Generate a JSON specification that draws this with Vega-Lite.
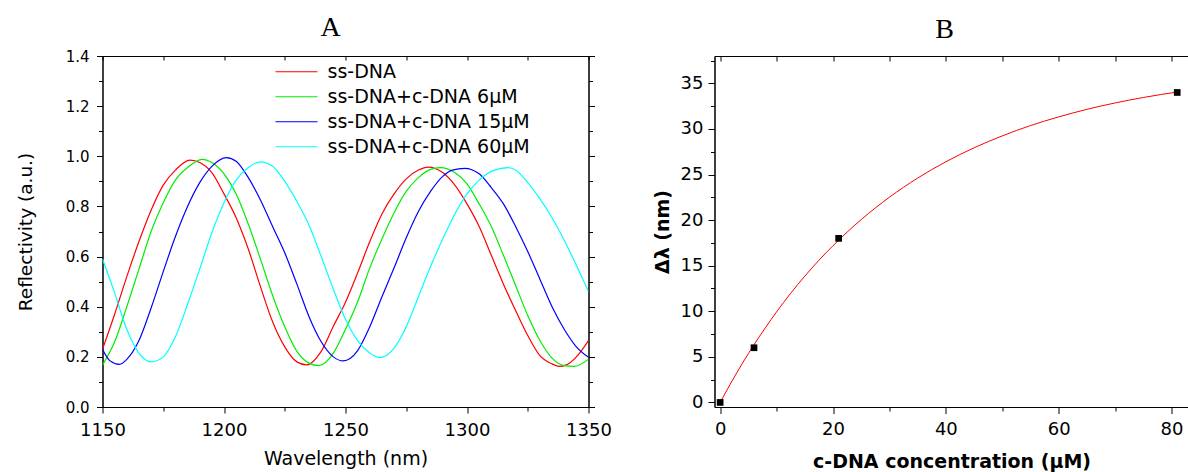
{
  "$schema": "https://vega.github.io/schema/vega-lite/v6.json",
  "padding": {"left": 15.5, "top": 13, "right": 0, "bottom": 0},
  "background": "white",
  "config": {
    "view": {"stroke": "#000", "strokeWidth": 1},
    "axis": {"domainColor": "#000", "tickColor": "#000", "labelColor": "#000", "titleColor": "#000", "grid": false, "labelFont": "DejaVu Sans", "titleFont": "DejaVu Sans", "titleFontWeight": "normal", "domainWidth": 1, "tickWidth": 1, "labelFlush": false, "labelOverlap": false, "labelBound": false},
    "title": {"font": "Liberation Serif", "fontSize": 28, "fontWeight": "normal", "color": "#000", "anchor": "middle"}
  },
  "datasets": {
    "spectra": [
      {"wavelength": 1150, "reflectivity": 0.23, "sample": "ss-DNA"},
      {"wavelength": 1155, "reflectivity": 0.37, "sample": "ss-DNA"},
      {"wavelength": 1160, "reflectivity": 0.52, "sample": "ss-DNA"},
      {"wavelength": 1165, "reflectivity": 0.66, "sample": "ss-DNA"},
      {"wavelength": 1170, "reflectivity": 0.785, "sample": "ss-DNA"},
      {"wavelength": 1175, "reflectivity": 0.885, "sample": "ss-DNA"},
      {"wavelength": 1180, "reflectivity": 0.945, "sample": "ss-DNA"},
      {"wavelength": 1186, "reflectivity": 0.985, "sample": "ss-DNA"},
      {"wavelength": 1190, "reflectivity": 0.975, "sample": "ss-DNA"},
      {"wavelength": 1195, "reflectivity": 0.935, "sample": "ss-DNA"},
      {"wavelength": 1200, "reflectivity": 0.85, "sample": "ss-DNA"},
      {"wavelength": 1205, "reflectivity": 0.755, "sample": "ss-DNA"},
      {"wavelength": 1210, "reflectivity": 0.63, "sample": "ss-DNA"},
      {"wavelength": 1215, "reflectivity": 0.48, "sample": "ss-DNA"},
      {"wavelength": 1220, "reflectivity": 0.34, "sample": "ss-DNA"},
      {"wavelength": 1225, "reflectivity": 0.24, "sample": "ss-DNA"},
      {"wavelength": 1230, "reflectivity": 0.18, "sample": "ss-DNA"},
      {"wavelength": 1234, "reflectivity": 0.168, "sample": "ss-DNA"},
      {"wavelength": 1240, "reflectivity": 0.222, "sample": "ss-DNA"},
      {"wavelength": 1245, "reflectivity": 0.322, "sample": "ss-DNA"},
      {"wavelength": 1250, "reflectivity": 0.418, "sample": "ss-DNA"},
      {"wavelength": 1255, "reflectivity": 0.535, "sample": "ss-DNA"},
      {"wavelength": 1260, "reflectivity": 0.66, "sample": "ss-DNA"},
      {"wavelength": 1265, "reflectivity": 0.77, "sample": "ss-DNA"},
      {"wavelength": 1270, "reflectivity": 0.85, "sample": "ss-DNA"},
      {"wavelength": 1275, "reflectivity": 0.91, "sample": "ss-DNA"},
      {"wavelength": 1280, "reflectivity": 0.945, "sample": "ss-DNA"},
      {"wavelength": 1284, "reflectivity": 0.957, "sample": "ss-DNA"},
      {"wavelength": 1290, "reflectivity": 0.935, "sample": "ss-DNA"},
      {"wavelength": 1295, "reflectivity": 0.885, "sample": "ss-DNA"},
      {"wavelength": 1300, "reflectivity": 0.81, "sample": "ss-DNA"},
      {"wavelength": 1305, "reflectivity": 0.72, "sample": "ss-DNA"},
      {"wavelength": 1310, "reflectivity": 0.605, "sample": "ss-DNA"},
      {"wavelength": 1315, "reflectivity": 0.49, "sample": "ss-DNA"},
      {"wavelength": 1320, "reflectivity": 0.385, "sample": "ss-DNA"},
      {"wavelength": 1325, "reflectivity": 0.285, "sample": "ss-DNA"},
      {"wavelength": 1330, "reflectivity": 0.205, "sample": "ss-DNA"},
      {"wavelength": 1335, "reflectivity": 0.172, "sample": "ss-DNA"},
      {"wavelength": 1338, "reflectivity": 0.162, "sample": "ss-DNA"},
      {"wavelength": 1341, "reflectivity": 0.168, "sample": "ss-DNA"},
      {"wavelength": 1345, "reflectivity": 0.2, "sample": "ss-DNA"},
      {"wavelength": 1350, "reflectivity": 0.265, "sample": "ss-DNA"},

      {"wavelength": 1150, "reflectivity": 0.167, "sample": "ss-DNA+c-DNA 6μM"},
      {"wavelength": 1155, "reflectivity": 0.26, "sample": "ss-DNA+c-DNA 6μM"},
      {"wavelength": 1160, "reflectivity": 0.4, "sample": "ss-DNA+c-DNA 6μM"},
      {"wavelength": 1165, "reflectivity": 0.55, "sample": "ss-DNA+c-DNA 6μM"},
      {"wavelength": 1170, "reflectivity": 0.7, "sample": "ss-DNA+c-DNA 6μM"},
      {"wavelength": 1175, "reflectivity": 0.815, "sample": "ss-DNA+c-DNA 6μM"},
      {"wavelength": 1180, "reflectivity": 0.905, "sample": "ss-DNA+c-DNA 6μM"},
      {"wavelength": 1185, "reflectivity": 0.955, "sample": "ss-DNA+c-DNA 6μM"},
      {"wavelength": 1191, "reflectivity": 0.988, "sample": "ss-DNA+c-DNA 6μM"},
      {"wavelength": 1195, "reflectivity": 0.975, "sample": "ss-DNA+c-DNA 6μM"},
      {"wavelength": 1200, "reflectivity": 0.93, "sample": "ss-DNA+c-DNA 6μM"},
      {"wavelength": 1205, "reflectivity": 0.85, "sample": "ss-DNA+c-DNA 6μM"},
      {"wavelength": 1210, "reflectivity": 0.73, "sample": "ss-DNA+c-DNA 6μM"},
      {"wavelength": 1215, "reflectivity": 0.59, "sample": "ss-DNA+c-DNA 6μM"},
      {"wavelength": 1220, "reflectivity": 0.445, "sample": "ss-DNA+c-DNA 6μM"},
      {"wavelength": 1225, "reflectivity": 0.32, "sample": "ss-DNA+c-DNA 6μM"},
      {"wavelength": 1230, "reflectivity": 0.222, "sample": "ss-DNA+c-DNA 6μM"},
      {"wavelength": 1235, "reflectivity": 0.175, "sample": "ss-DNA+c-DNA 6μM"},
      {"wavelength": 1239, "reflectivity": 0.165, "sample": "ss-DNA+c-DNA 6μM"},
      {"wavelength": 1245, "reflectivity": 0.215, "sample": "ss-DNA+c-DNA 6μM"},
      {"wavelength": 1250, "reflectivity": 0.31, "sample": "ss-DNA+c-DNA 6μM"},
      {"wavelength": 1255, "reflectivity": 0.42, "sample": "ss-DNA+c-DNA 6μM"},
      {"wavelength": 1260, "reflectivity": 0.555, "sample": "ss-DNA+c-DNA 6μM"},
      {"wavelength": 1265, "reflectivity": 0.67, "sample": "ss-DNA+c-DNA 6μM"},
      {"wavelength": 1270, "reflectivity": 0.775, "sample": "ss-DNA+c-DNA 6μM"},
      {"wavelength": 1275, "reflectivity": 0.86, "sample": "ss-DNA+c-DNA 6μM"},
      {"wavelength": 1280, "reflectivity": 0.915, "sample": "ss-DNA+c-DNA 6μM"},
      {"wavelength": 1285, "reflectivity": 0.948, "sample": "ss-DNA+c-DNA 6μM"},
      {"wavelength": 1289, "reflectivity": 0.955, "sample": "ss-DNA+c-DNA 6μM"},
      {"wavelength": 1295, "reflectivity": 0.935, "sample": "ss-DNA+c-DNA 6μM"},
      {"wavelength": 1300, "reflectivity": 0.89, "sample": "ss-DNA+c-DNA 6μM"},
      {"wavelength": 1305, "reflectivity": 0.81, "sample": "ss-DNA+c-DNA 6μM"},
      {"wavelength": 1310, "reflectivity": 0.72, "sample": "ss-DNA+c-DNA 6μM"},
      {"wavelength": 1315, "reflectivity": 0.605, "sample": "ss-DNA+c-DNA 6μM"},
      {"wavelength": 1320, "reflectivity": 0.485, "sample": "ss-DNA+c-DNA 6μM"},
      {"wavelength": 1325, "reflectivity": 0.365, "sample": "ss-DNA+c-DNA 6μM"},
      {"wavelength": 1330, "reflectivity": 0.265, "sample": "ss-DNA+c-DNA 6μM"},
      {"wavelength": 1335, "reflectivity": 0.195, "sample": "ss-DNA+c-DNA 6μM"},
      {"wavelength": 1340, "reflectivity": 0.165, "sample": "ss-DNA+c-DNA 6μM"},
      {"wavelength": 1344, "reflectivity": 0.162, "sample": "ss-DNA+c-DNA 6μM"},
      {"wavelength": 1350, "reflectivity": 0.19, "sample": "ss-DNA+c-DNA 6μM"},

      {"wavelength": 1150, "reflectivity": 0.23, "sample": "ss-DNA+c-DNA 15μM"},
      {"wavelength": 1153, "reflectivity": 0.185, "sample": "ss-DNA+c-DNA 15μM"},
      {"wavelength": 1157, "reflectivity": 0.17, "sample": "ss-DNA+c-DNA 15μM"},
      {"wavelength": 1160, "reflectivity": 0.19, "sample": "ss-DNA+c-DNA 15μM"},
      {"wavelength": 1165, "reflectivity": 0.265, "sample": "ss-DNA+c-DNA 15μM"},
      {"wavelength": 1170, "reflectivity": 0.395, "sample": "ss-DNA+c-DNA 15μM"},
      {"wavelength": 1175, "reflectivity": 0.54, "sample": "ss-DNA+c-DNA 15μM"},
      {"wavelength": 1180, "reflectivity": 0.68, "sample": "ss-DNA+c-DNA 15μM"},
      {"wavelength": 1185, "reflectivity": 0.8, "sample": "ss-DNA+c-DNA 15μM"},
      {"wavelength": 1190, "reflectivity": 0.895, "sample": "ss-DNA+c-DNA 15μM"},
      {"wavelength": 1195, "reflectivity": 0.96, "sample": "ss-DNA+c-DNA 15μM"},
      {"wavelength": 1201, "reflectivity": 0.995, "sample": "ss-DNA+c-DNA 15μM"},
      {"wavelength": 1205, "reflectivity": 0.98, "sample": "ss-DNA+c-DNA 15μM"},
      {"wavelength": 1210, "reflectivity": 0.915, "sample": "ss-DNA+c-DNA 15μM"},
      {"wavelength": 1215, "reflectivity": 0.826, "sample": "ss-DNA+c-DNA 15μM"},
      {"wavelength": 1220, "reflectivity": 0.72, "sample": "ss-DNA+c-DNA 15μM"},
      {"wavelength": 1225, "reflectivity": 0.615, "sample": "ss-DNA+c-DNA 15μM"},
      {"wavelength": 1230, "reflectivity": 0.49, "sample": "ss-DNA+c-DNA 15μM"},
      {"wavelength": 1235, "reflectivity": 0.36, "sample": "ss-DNA+c-DNA 15μM"},
      {"wavelength": 1240, "reflectivity": 0.26, "sample": "ss-DNA+c-DNA 15μM"},
      {"wavelength": 1245, "reflectivity": 0.2, "sample": "ss-DNA+c-DNA 15μM"},
      {"wavelength": 1249, "reflectivity": 0.184, "sample": "ss-DNA+c-DNA 15μM"},
      {"wavelength": 1255, "reflectivity": 0.225, "sample": "ss-DNA+c-DNA 15μM"},
      {"wavelength": 1260, "reflectivity": 0.32, "sample": "ss-DNA+c-DNA 15μM"},
      {"wavelength": 1265, "reflectivity": 0.44, "sample": "ss-DNA+c-DNA 15μM"},
      {"wavelength": 1270, "reflectivity": 0.555, "sample": "ss-DNA+c-DNA 15μM"},
      {"wavelength": 1275, "reflectivity": 0.675, "sample": "ss-DNA+c-DNA 15μM"},
      {"wavelength": 1280, "reflectivity": 0.78, "sample": "ss-DNA+c-DNA 15μM"},
      {"wavelength": 1285, "reflectivity": 0.86, "sample": "ss-DNA+c-DNA 15μM"},
      {"wavelength": 1290, "reflectivity": 0.92, "sample": "ss-DNA+c-DNA 15μM"},
      {"wavelength": 1294, "reflectivity": 0.945, "sample": "ss-DNA+c-DNA 15μM"},
      {"wavelength": 1299, "reflectivity": 0.952, "sample": "ss-DNA+c-DNA 15μM"},
      {"wavelength": 1305, "reflectivity": 0.93, "sample": "ss-DNA+c-DNA 15μM"},
      {"wavelength": 1310, "reflectivity": 0.875, "sample": "ss-DNA+c-DNA 15μM"},
      {"wavelength": 1315, "reflectivity": 0.81, "sample": "ss-DNA+c-DNA 15μM"},
      {"wavelength": 1320, "reflectivity": 0.72, "sample": "ss-DNA+c-DNA 15μM"},
      {"wavelength": 1325, "reflectivity": 0.62, "sample": "ss-DNA+c-DNA 15μM"},
      {"wavelength": 1330, "reflectivity": 0.51, "sample": "ss-DNA+c-DNA 15μM"},
      {"wavelength": 1335, "reflectivity": 0.4, "sample": "ss-DNA+c-DNA 15μM"},
      {"wavelength": 1340, "reflectivity": 0.31, "sample": "ss-DNA+c-DNA 15μM"},
      {"wavelength": 1345, "reflectivity": 0.24, "sample": "ss-DNA+c-DNA 15μM"},
      {"wavelength": 1350, "reflectivity": 0.198, "sample": "ss-DNA+c-DNA 15μM"},

      {"wavelength": 1150, "reflectivity": 0.59, "sample": "ss-DNA+c-DNA 60μM"},
      {"wavelength": 1155, "reflectivity": 0.455, "sample": "ss-DNA+c-DNA 60μM"},
      {"wavelength": 1160, "reflectivity": 0.31, "sample": "ss-DNA+c-DNA 60μM"},
      {"wavelength": 1165, "reflectivity": 0.215, "sample": "ss-DNA+c-DNA 60μM"},
      {"wavelength": 1170, "reflectivity": 0.18, "sample": "ss-DNA+c-DNA 60μM"},
      {"wavelength": 1175, "reflectivity": 0.2, "sample": "ss-DNA+c-DNA 60μM"},
      {"wavelength": 1180, "reflectivity": 0.28, "sample": "ss-DNA+c-DNA 60μM"},
      {"wavelength": 1185, "reflectivity": 0.41, "sample": "ss-DNA+c-DNA 60μM"},
      {"wavelength": 1190, "reflectivity": 0.55, "sample": "ss-DNA+c-DNA 60μM"},
      {"wavelength": 1195, "reflectivity": 0.695, "sample": "ss-DNA+c-DNA 60μM"},
      {"wavelength": 1200, "reflectivity": 0.815, "sample": "ss-DNA+c-DNA 60μM"},
      {"wavelength": 1205, "reflectivity": 0.905, "sample": "ss-DNA+c-DNA 60μM"},
      {"wavelength": 1210, "reflectivity": 0.955, "sample": "ss-DNA+c-DNA 60μM"},
      {"wavelength": 1215, "reflectivity": 0.978, "sample": "ss-DNA+c-DNA 60μM"},
      {"wavelength": 1220, "reflectivity": 0.96, "sample": "ss-DNA+c-DNA 60μM"},
      {"wavelength": 1225, "reflectivity": 0.9, "sample": "ss-DNA+c-DNA 60μM"},
      {"wavelength": 1230, "reflectivity": 0.82, "sample": "ss-DNA+c-DNA 60μM"},
      {"wavelength": 1235, "reflectivity": 0.725, "sample": "ss-DNA+c-DNA 60μM"},
      {"wavelength": 1240, "reflectivity": 0.6, "sample": "ss-DNA+c-DNA 60μM"},
      {"wavelength": 1245, "reflectivity": 0.47, "sample": "ss-DNA+c-DNA 60μM"},
      {"wavelength": 1250, "reflectivity": 0.35, "sample": "ss-DNA+c-DNA 60μM"},
      {"wavelength": 1255, "reflectivity": 0.265, "sample": "ss-DNA+c-DNA 60μM"},
      {"wavelength": 1260, "reflectivity": 0.215, "sample": "ss-DNA+c-DNA 60μM"},
      {"wavelength": 1264, "reflectivity": 0.197, "sample": "ss-DNA+c-DNA 60μM"},
      {"wavelength": 1270, "reflectivity": 0.235, "sample": "ss-DNA+c-DNA 60μM"},
      {"wavelength": 1275, "reflectivity": 0.32, "sample": "ss-DNA+c-DNA 60μM"},
      {"wavelength": 1280, "reflectivity": 0.44, "sample": "ss-DNA+c-DNA 60μM"},
      {"wavelength": 1285, "reflectivity": 0.56, "sample": "ss-DNA+c-DNA 60μM"},
      {"wavelength": 1290, "reflectivity": 0.67, "sample": "ss-DNA+c-DNA 60μM"},
      {"wavelength": 1295, "reflectivity": 0.77, "sample": "ss-DNA+c-DNA 60μM"},
      {"wavelength": 1300, "reflectivity": 0.85, "sample": "ss-DNA+c-DNA 60μM"},
      {"wavelength": 1305, "reflectivity": 0.905, "sample": "ss-DNA+c-DNA 60μM"},
      {"wavelength": 1310, "reflectivity": 0.94, "sample": "ss-DNA+c-DNA 60μM"},
      {"wavelength": 1317, "reflectivity": 0.955, "sample": "ss-DNA+c-DNA 60μM"},
      {"wavelength": 1320, "reflectivity": 0.945, "sample": "ss-DNA+c-DNA 60μM"},
      {"wavelength": 1325, "reflectivity": 0.895, "sample": "ss-DNA+c-DNA 60μM"},
      {"wavelength": 1330, "reflectivity": 0.83, "sample": "ss-DNA+c-DNA 60μM"},
      {"wavelength": 1335, "reflectivity": 0.755, "sample": "ss-DNA+c-DNA 60μM"},
      {"wavelength": 1340, "reflectivity": 0.665, "sample": "ss-DNA+c-DNA 60μM"},
      {"wavelength": 1345, "reflectivity": 0.565, "sample": "ss-DNA+c-DNA 60μM"},
      {"wavelength": 1350, "reflectivity": 0.46, "sample": "ss-DNA+c-DNA 60μM"}
    ],
    "measured": [
      {"concentration": 0, "shift": 0},
      {"concentration": 6, "shift": 6},
      {"concentration": 21, "shift": 18},
      {"concentration": 81, "shift": 34}
    ],
    "fit": [
      {"concentration": 0, "shift": 0},
      {"concentration": 2, "shift": 2.24},
      {"concentration": 4, "shift": 4.35},
      {"concentration": 6, "shift": 6.33},
      {"concentration": 8, "shift": 8.18},
      {"concentration": 10, "shift": 9.93},
      {"concentration": 12.5, "shift": 11.97},
      {"concentration": 15, "shift": 13.85},
      {"concentration": 17.5, "shift": 15.59},
      {"concentration": 20, "shift": 17.19},
      {"concentration": 22.5, "shift": 18.68},
      {"concentration": 25, "shift": 20.06},
      {"concentration": 30, "shift": 22.51},
      {"concentration": 35, "shift": 24.61},
      {"concentration": 40, "shift": 26.4},
      {"concentration": 45, "shift": 27.93},
      {"concentration": 50, "shift": 29.24},
      {"concentration": 55, "shift": 30.37},
      {"concentration": 60, "shift": 31.32},
      {"concentration": 65, "shift": 32.15},
      {"concentration": 70, "shift": 32.85},
      {"concentration": 75, "shift": 33.45},
      {"concentration": 81, "shift": 34.05}
    ]
  },
  "hconcat": [
    {
      "width": 486,
      "height": 351,
      "title": {"text": "A", "dx": -15, "offset": 7.5},
      "data": {"name": "spectra"},
      "layer": [
        {
          "mark": {"type": "line", "interpolate": "monotone", "strokeWidth": 1.2, "clip": true},
          "encoding": {
            "x": {"field": "wavelength", "type": "quantitative",
              "scale": {"domain": [1150, 1350], "nice": false, "zero": false},
              "axis": {"orient": "bottom", "title": "Wavelength (nm)", "format": "d", "values": [1150, 1175, 1200, 1225, 1250, 1275, 1300, 1325, 1350],
                "labelExpr": "datum.value % 50 === 0 ? datum.label : ''",
                "tickSize": {"condition": {"test": "datum.value % 50 === 0", "value": 6}, "value": 4},
                "labelFontSize": 18, "labelPadding": 8, "titleFontSize": 19, "titlePadding": 10}},
            "y": {"field": "reflectivity", "type": "quantitative",
              "scale": {"domain": [0, 1.4], "nice": false, "zero": false},
              "axis": {"orient": "left", "title": "Reflectivity (a.u.)", "values": [0, 0.1, 0.2, 0.3, 0.4, 0.5, 0.6, 0.7, 0.8, 0.9, 1.0, 1.1, 1.2, 1.3, 1.4],
                "labelExpr": "round(datum.value * 10) % 2 === 0 ? format(datum.value, '.1f') : ''",
                "tickSize": {"condition": {"test": "round(datum.value * 10) % 2 === 0", "value": 6}, "value": 4},
                "labelFontSize": 15, "labelPadding": 7.5, "titleFontSize": 18.5, "titlePadding": 30}},
            "color": {"field": "sample", "type": "nominal",
              "scale": {"domain": ["ss-DNA", "ss-DNA+c-DNA 6μM", "ss-DNA+c-DNA 15μM", "ss-DNA+c-DNA 60μM"], "range": ["#ff0000", "#00ee00", "#0000ff", "#00ffff"]},
              "legend": {"orient": "none", "legendX": 172, "legendY": 3.5, "title": null, "symbolType": "stroke", "symbolSize": 1764, "symbolStrokeWidth": 1.2, "labelFont": "DejaVu Sans", "labelFontSize": 19, "labelColor": "#000", "labelOffset": 9, "clipHeight": 24.5, "rowPadding": 0, "padding": 0, "labelLimit": 400}}
          }
        },
        {
          "mark": {"type": "line", "opacity": 0},
          "encoding": {
            "x": {"field": "wavelength", "type": "quantitative",
              "scale": {"domain": [1150, 1350], "nice": false, "zero": false},
              "axis": {"orient": "top", "title": null, "labels": false, "values": [1150, 1175, 1200, 1225, 1250, 1275, 1300, 1325, 1350], "tickSize": -4}},
            "y": {"field": "reflectivity", "type": "quantitative",
              "scale": {"domain": [0, 1.4], "nice": false, "zero": false},
              "axis": {"orient": "right", "title": null, "labels": false, "values": [0, 0.1, 0.2, 0.3, 0.4, 0.5, 0.6, 0.7, 0.8, 0.9, 1.0, 1.1, 1.2, 1.3, 1.4],
                "tickSize": {"condition": {"test": "round(datum.value * 10) % 2 === 0", "value": 6}, "value": 4}}}
          }
        }
      ],
      "resolve": {"axis": {"x": "independent", "y": "independent"}}
    },
    {
      "width": 474,
      "height": 351,
      "title": {"text": "B", "dx": -7, "offset": 7.5},
      "layer": [
        {
          "data": {"name": "fit"},
          "mark": {"type": "line", "interpolate": "monotone", "color": "#ff0000", "strokeWidth": 1},
          "encoding": {
            "x": {"field": "concentration", "type": "quantitative",
              "scale": {"domain": [-1, 83], "nice": false, "zero": false},
              "axis": {"orient": "bottom", "title": "c-DNA concentration (μM)", "values": [0, 10, 20, 30, 40, 50, 60, 70, 80],
                "labelExpr": "datum.value % 20 === 0 ? datum.label : ''",
                "tickSize": {"condition": {"test": "datum.value % 20 === 0", "value": 6.5}, "value": 4},
                "labelFontSize": 18, "labelPadding": 7, "titleFontSize": 19, "titleFontWeight": "bold", "titlePadding": 14}},
            "y": {"field": "shift", "type": "quantitative",
              "scale": {"domain": [-0.5, 38], "nice": false, "zero": false},
              "axis": {"orient": "left", "title": "Δλ (nm)", "values": [0, 2.5, 5, 7.5, 10, 12.5, 15, 17.5, 20, 22.5, 25, 27.5, 30, 32.5, 35, 37.5],
                "labelExpr": "datum.value % 5 === 0 ? datum.label : ''",
                "tickSize": {"condition": {"test": "datum.value % 5 === 0", "value": 6.5}, "value": 4},
                "labelFontSize": 18, "labelPadding": 5, "titleFontSize": 19, "titleFontWeight": "bold", "titlePadding": 8}}
          }
        },
        {
          "data": {"name": "measured"},
          "mark": {"type": "point", "shape": "square", "filled": true, "color": "#000", "size": 45, "opacity": 1},
          "encoding": {
            "x": {"field": "concentration", "type": "quantitative", "axis": null},
            "y": {"field": "shift", "type": "quantitative", "axis": null}
          }
        },
        {
          "data": {"name": "fit"},
          "mark": {"type": "line", "opacity": 0},
          "encoding": {
            "x": {"field": "concentration", "type": "quantitative",
              "axis": {"orient": "top", "title": null, "labels": false, "values": [0, 10, 20, 30, 40, 50, 60, 70, 80], "tickSize": -5}},
            "y": {"field": "shift", "type": "quantitative",
              "axis": {"orient": "right", "title": null, "labels": false, "ticks": false}}
          }
        }
      ],
      "resolve": {"axis": {"x": "independent", "y": "independent"}}
    }
  ],
  "spacing": 126,
  "bounds": "flush"
}
